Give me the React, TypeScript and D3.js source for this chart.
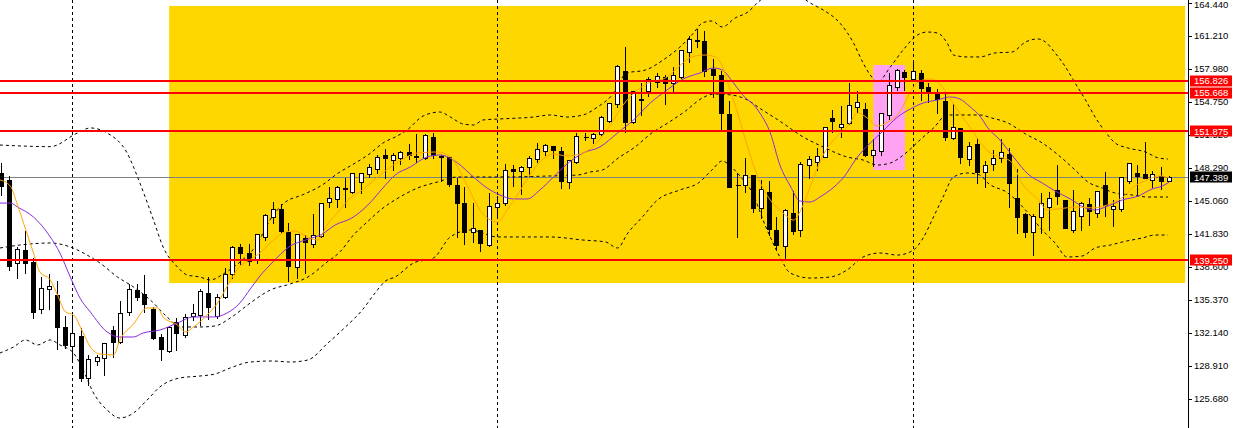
import React from "react";
import * as d3 from "d3";

const W = 1233;
const H = 428;

// ---- OHLC data (147 bars) ----
const opens = [
  147.80,147.12,139.02,140.26,139.09,134.49,136.44,135.86,132.73,130.87,
  131.85,127.74,129.40,129.69,132.43,131.26,134.20,136.35,135.96,134.49,
  131.75,130.38,133.22,131.94,133.80,133.90,136.06,133.80,135.66,137.91,
  140.56,139.97,139.28,141.54,143.49,144.28,142.03,138.60,141.44,140.85,
  141.64,144.96,145.26,146.33,145.94,146.92,147.70,148.19,149.56,149.07,
  149.27,149.86,149.47,149.27,151.32,149.47,149.37,146.63,144.86,142.03,
  142.22,140.75,144.47,144.86,148.19,147.99,148.39,149.17,149.95,150.44,
  149.95,146.92,148.88,151.32,151.23,151.62,152.89,154.56,157.78,152.79,
  155.04,155.83,156.71,157.20,156.61,157.20,159.64,160.77,160.72,157.98,
  157.39,153.58,146.63,146.63,147.60,144.38,145.94,142.22,140.65,143.89,
  142.22,148.58,148.88,149.37,153.19,152.30,152.70,154.26,154.07,149.56,
  149.95,153.48,156.22,157.69,157.00,157.59,156.22,155.63,154.85,151.23,
  152.21,149.17,150.64,147.85,148.68,149.24,149.66,145.32,143.79,141.98,
  143.46,144.50,146.14,145.16,142.25,143.62,144.77,143.86,146.63,144.25,
  144.25,147.05,147.83,147.70,147.12,147.51,147.05,
];
const highs = [
  148.88,147.60,140.68,142.22,139.58,137.72,138.01,137.33,133.90,134.00,
  132.73,130.09,130.09,131.26,132.92,135.37,137.03,137.03,137.91,134.78,
  132.14,132.92,133.71,134.10,135.08,136.54,137.72,136.06,138.60,140.75,
  140.95,140.95,141.93,143.89,145.06,144.86,143.00,141.93,141.83,143.89,
  145.00,146.53,146.63,147.41,147.83,147.83,148.78,149.66,150.25,149.86,
  150.05,150.74,151.72,151.72,151.81,149.66,149.56,147.41,146.53,144.96,
  142.32,145.94,145.65,148.78,148.68,148.58,149.56,150.84,150.74,150.54,
  150.44,149.10,151.81,151.81,151.81,153.48,154.75,158.47,160.23,155.93,
  156.71,157.30,157.69,157.49,158.27,159.94,161.31,161.99,161.80,159.06,
  157.88,154.95,147.90,149.37,147.62,147.21,147.12,143.59,144.38,146.14,
  148.98,149.56,150.35,152.40,154.07,154.46,156.71,155.93,154.75,151.23,
  153.77,157.69,158.08,157.98,158.96,157.98,156.71,156.12,155.63,154.65,
  152.30,150.93,151.32,149.12,150.15,151.20,150.38,148.26,143.98,143.86,
  145.91,146.04,148.68,145.26,146.23,145.06,145.42,146.18,147.99,145.26,
  147.46,148.91,148.68,150.93,148.09,148.49,147.60,
];
const lows = [
  145.65,138.31,137.55,138.01,133.61,134.10,134.49,130.58,130.67,129.40,
  127.44,127.05,129.01,128.03,129.79,131.16,133.90,135.37,134.20,131.55,
  129.50,130.28,130.48,131.75,133.41,132.92,133.51,133.61,135.57,137.52,
  138.89,138.79,138.99,141.24,142.90,142.03,137.23,137.52,138.01,140.56,
  141.54,144.47,144.47,144.47,145.84,145.84,147.41,147.80,147.31,148.09,
  148.68,149.17,148.88,149.17,149.27,147.02,146.53,141.54,140.85,141.05,
  140.16,140.70,143.69,144.67,146.53,145.75,147.51,148.88,149.56,149.27,
  146.33,146.33,148.78,151.03,150.74,151.52,152.79,154.26,151.81,152.70,
  153.48,155.34,156.22,154.56,155.83,157.10,158.67,160.13,157.30,155.24,
  152.01,146.40,141.54,145.94,143.98,143.40,141.73,140.26,139.38,141.83,
  141.64,147.31,148.09,149.34,151.81,151.32,152.60,153.77,149.47,148.49,
  149.56,153.09,155.93,155.93,156.90,154.95,154.75,153.67,151.03,151.13,
  148.78,148.58,146.82,146.43,148.09,148.91,144.50,141.96,141.57,139.77,
  141.90,142.22,144.77,142.37,142.05,142.22,142.71,143.52,143.59,142.61,
  144.11,146.79,145.65,147.28,146.46,146.20,147.02,
];
const closes = [
  146.53,138.70,140.33,138.99,134.20,136.54,136.74,132.73,130.97,132.14,
  127.74,129.60,129.79,131.16,131.26,134.10,136.44,135.66,134.98,131.65,
  130.58,132.73,132.14,133.71,134.10,136.25,134.69,135.66,137.91,140.56,
  139.97,139.18,141.83,143.69,144.28,142.12,138.70,141.83,141.05,141.73,
  144.90,145.35,146.43,146.23,147.80,147.80,148.39,149.37,149.27,149.56,
  149.86,149.56,149.37,151.52,149.56,149.37,146.72,144.86,142.03,142.42,
  140.95,144.57,144.86,148.09,147.99,148.39,149.27,150.15,150.54,150.05,
  147.02,149.07,151.42,151.37,151.62,153.28,154.65,158.27,152.79,155.83,
  154.99,157.00,157.30,156.61,157.39,159.84,160.92,160.75,157.78,157.39,
  153.67,146.43,146.58,147.60,144.38,146.23,142.32,140.75,144.18,142.12,
  148.68,149.17,149.47,152.30,152.89,152.60,154.46,154.75,149.56,150.05,
  153.67,156.41,157.88,157.20,157.78,156.12,155.83,155.04,151.32,152.26,
  149.32,150.49,147.90,148.58,149.22,149.83,146.85,143.45,142.05,143.64,
  144.83,145.32,145.58,142.42,144.08,144.83,144.08,146.04,144.64,144.57,
  147.38,148.75,147.53,147.34,147.67,147.05,147.389,
];

// ---- indicator lines: [bar index, price] ----
const bandUpper: [number, number][] = [
  [-0.2,150.54],[6.1,150.38],[9.5,151.72],[11.1,152.21],[13.2,151.72],[15.7,149.76],[17.3,146.82],
  [19.0,143.20],[20.2,140.56],[22.0,138.60],[23.2,137.82],[24.8,137.62],[26.1,137.33],[27.9,138.01],
  [30.1,139.28],[31.7,140.56],[33.8,143.49],[35.5,144.96],[37.6,145.65],[40.1,146.63],[42.1,147.80],
  [43.8,148.58],[45.8,149.56],[47.9,150.84],[49.2,151.32],[50.7,152.01],[52.7,153.38],[54.8,153.77],
  [56.1,153.28],[57.7,152.60],[59.0,152.50],[60.2,152.99],[62.3,153.09],[66.5,153.28],[68.6,153.48],
  [70.7,153.28],[72.7,153.48],[74.5,154.26],[76.1,155.24],[78.2,157.59],[80.5,157.88],[82.7,158.86],
  [84.8,160.13],[86.5,161.50],[87.6,162.48],[88.8,162.68],[90.1,162.09],[91.7,162.97],[93.3,163.56],
  [94.6,164.54],[96.3,165.52],[98.2,165.91],[99.8,165.13],[101.1,164.44],[102.7,163.76],[104.8,162.48],
  [106.5,160.53],[107.7,158.57],[108.6,157.39],[109.5,156.71],[111.1,158.18],[112.7,159.84],[114.5,161.31],
  [115.7,161.60],[117.0,161.50],[118.2,160.53],[119.0,159.35],[120.7,159.16],[122.3,159.16],[124.2,159.55],
  [126.3,159.64],[128.0,160.62],[129.5,160.92],[130.5,160.62],[131.7,159.55],[133.0,158.18],[134.2,156.61],
  [135.5,154.95],[136.7,153.28],[138.0,151.81],[139.2,150.74],[140.8,150.25],[143.0,149.86],[144.6,149.27],
  [145.8,149.17],
];
const bandMiddle: [number, number][] = [
  [-0.2,140.46],[2.3,140.75],[6.1,140.95],[8.6,140.56],[10.7,139.77],[12.3,138.99],[14.5,137.62],
  [16.5,136.64],[18.6,135.37],[20.7,133.71],[22.3,132.73],[24.8,132.73],[26.7,132.83],[28.6,133.61],
  [31.1,135.08],[33.6,136.35],[36.1,136.94],[38.3,137.62],[40.7,139.09],[42.3,140.07],[44.0,141.73],
  [45.7,143.00],[47.7,144.38],[49.8,145.45],[52.0,146.33],[54.5,146.92],[57.0,147.41],[62.3,147.41],
  [68.6,147.51],[72.0,147.60],[73.6,147.90],[75.1,148.09],[77.1,149.27],[79.2,150.35],[81.3,151.72],
  [83.3,152.70],[85.5,153.87],[87.6,155.14],[89.0,155.53],[91.3,155.43],[93.0,155.04],[95.1,153.97],
  [96.7,153.18],[98.0,152.50],[99.8,151.52],[102.7,150.35],[105.7,149.37],[107.7,149.07],[109.5,148.58],
  [111.1,148.78],[113.2,149.86],[114.8,151.03],[116.5,152.21],[118.2,153.48],[122.3,153.48],[123.8,153.18],
  [125.8,152.70],[128.0,151.62],[130.1,150.74],[132.1,149.56],[134.2,148.09],[135.8,146.92],[137.6,146.33],
  [139.2,145.84],[141.3,145.65],[143.3,145.45],[145.8,145.45],
];
const bandLower: [number, number][] = [
  [-0.2,130.18],[1.5,130.77],[3.0,131.46],[4.5,130.97],[6.1,131.46],[7.3,130.97],[9.0,130.18],
  [10.2,128.52],[11.5,126.27],[13.2,124.60],[14.8,123.82],[16.5,124.31],[18.2,125.58],[19.8,126.86],
  [22.3,127.74],[24.8,127.93],[26.7,128.13],[28.6,128.72],[31.1,129.30],[33.8,129.40],[36.1,129.30],
  [38.3,129.50],[40.8,131.16],[43.0,132.73],[45.1,134.39],[46.7,136.06],[48.0,137.23],[49.2,137.62],
  [51.5,138.99],[54.0,139.48],[56.1,141.54],[58.6,142.22],[62.0,141.54],[68.6,141.54],[72.7,141.24],
  [75.5,141.05],[77.0,140.46],[78.3,141.93],[80.1,143.49],[82.0,145.16],[84.8,146.14],[87.1,146.82],
  [88.8,148.09],[90.1,148.98],[91.1,148.49],[92.3,147.51],[93.8,145.94],[95.5,142.61],[97.3,139.58],
  [98.6,138.01],[101.1,137.52],[103.6,137.62],[105.7,138.31],[107.7,139.58],[109.8,139.97],[112.0,139.77],
  [114.0,140.26],[115.2,141.44],[116.5,143.49],[117.7,145.45],[119.0,147.41],[120.7,147.80],[122.3,147.60],
  [123.3,146.82],[125.8,145.84],[128.0,144.18],[130.1,142.22],[131.7,140.95],[133.2,139.58],[135.1,139.68],
  [136.7,140.46],[138.6,140.75],[140.1,141.05],[142.6,141.44],[144.2,141.73],[145.8,141.73],
];
const maSlow: [number, number][] = [
  [-0.2,144.86],[1.1,144.86],[2.0,144.47],[4.0,143.49],[6.1,141.54],[7.3,139.97],[8.6,137.62],
  [9.8,135.57],[11.1,134.20],[13.2,132.24],[14.8,131.75],[16.5,131.75],[17.7,132.14],[19.8,132.43],
  [22.0,133.12],[24.0,133.71],[26.5,133.71],[28.2,134.10],[29.8,135.08],[31.1,136.45],[32.3,137.72],
  [33.8,138.99],[36.1,140.66],[38.0,141.24],[40.1,141.83],[41.7,142.71],[43.8,143.40],[45.8,144.67],
  [48.0,146.63],[49.2,147.60],[51.1,148.39],[53.2,149.37],[54.8,149.56],[57.0,148.78],[59.0,147.41],
  [60.7,146.33],[62.3,145.65],[64.0,145.26],[65.7,145.26],[67.3,146.14],[69.0,147.41],[70.7,148.68],
  [72.7,149.76],[74.8,150.35],[77.0,151.72],[79.0,152.99],[81.1,154.65],[83.2,155.93],[85.2,157.00],
  [87.3,157.59],[89.0,158.08],[90.1,157.88],[91.5,156.61],[93.0,155.14],[93.8,154.65],[94.8,153.67],
  [96.1,151.72],[97.3,148.58],[98.6,146.53],[99.8,145.06],[101.1,144.96],[102.3,145.45],[103.6,146.14],
  [105.2,147.31],[107.0,149.37],[108.6,150.74],[110.2,151.91],[112.0,153.28],[113.6,154.07],[115.2,154.65],
  [117.0,154.95],[118.6,155.24],[119.8,155.04],[121.1,154.26],[122.3,153.38],[123.3,152.21],[124.8,151.03],
  [126.5,149.37],[128.3,147.70],[130.1,146.82],[131.7,146.04],[133.6,145.26],[135.5,144.38],[136.7,144.18],
  [138.3,144.57],[140.1,145.16],[142.1,145.55],[143.8,146.23],[145.1,146.53],[146.0,146.92],
];
const maFast: [number, number][] = [
  [-0.2,147.12],[1.1,146.53],[2.0,144.67],[3.0,142.32],[4.0,139.97],[4.8,138.11],[6.1,137.33],
  [7.0,135.86],[8.0,134.20],[9.0,133.90],[10.1,132.34],[11.1,130.77],[12.3,130.09],[14.0,129.99],
  [14.8,131.46],[16.5,133.02],[18.2,134.59],[19.5,134.59],[20.2,133.71],[22.0,132.92],[23.0,132.24],
  [24.0,132.73],[25.7,133.90],[27.1,135.18],[28.3,136.84],[29.6,138.50],[30.8,139.19],[32.3,139.97],
  [34.0,141.24],[35.5,142.03],[36.7,142.12],[38.0,141.64],[39.5,141.24],[40.7,142.71],[42.3,144.18],
  [43.6,145.36],[45.1,146.14],[46.7,147.21],[48.3,148.19],[49.8,148.98],[52.0,149.76],[54.5,149.86],
  [56.1,149.37],[57.3,147.99],[58.6,145.94],[59.8,144.18],[61.1,143.20],[62.0,143.00],[63.2,144.18],
  [64.5,145.65],[65.7,147.21],[67.3,148.88],[69.0,149.66],[70.7,149.47],[72.7,149.76],[74.5,150.84],
  [76.1,152.50],[77.7,154.46],[79.5,155.93],[81.1,156.71],[83.0,157.10],[84.6,158.18],[86.3,159.16],
  [88.0,159.35],[89.2,159.16],[90.1,158.28],[90.8,156.61],[92.1,153.48],[93.3,150.25],[94.6,147.31],
  [96.1,145.16],[97.7,143.89],[99.0,143.20],[100.2,144.67],[101.5,147.31],[102.7,149.56],[104.0,151.03],
  [105.7,152.30],[107.1,153.67],[108.2,153.19],[109.5,152.40],[110.8,152.79],[112.3,153.77],[113.6,155.73],
  [114.8,156.81],[116.1,157.00],[117.3,156.51],[118.6,155.04],[120.1,153.28],[121.5,151.81],[122.3,150.84],
  [123.6,149.76],[124.8,149.37],[126.1,148.98],[127.7,146.63],[129.5,145.26],[130.7,144.18],[132.0,144.28],
  [134.5,144.47],[136.5,144.38],[138.8,144.86],[140.2,145.45],[141.5,146.43],[143.2,147.12],[144.8,147.51],
  [146.0,147.31],
];

// ---- axis / annotations ----
const priceTicks = [164.44,161.21,157.98,154.75,151.52,148.29,145.06,141.83,138.6,135.37,132.14,128.91,125.68];
const redLevels = [156.826, 155.668, 151.875, 139.25];
const currentPrice = 147.389;
const vLineBars = [9, 62, 114];
const yellowZone = { barStart: 20.95, barEnd: 147.95, priceTop: 164.15, priceBottom: 137.03 };
const pinkZone = { barStart: 108.98, barEnd: 112.94, priceTop: 158.37, priceBottom: 148.09 };

const AXIS_X = 1188.5;
const FONT = "'Liberation Sans', Arial, sans-serif";

export default function App() {
  const x = d3.scaleLinear().domain([0, 146]).range([1.5, 1169.5]);
  const y = d3.scaleLinear().domain([125.68, 164.44]).range([399, 3]);
  const fmt = d3.format(".3f");
  const snap = (v: number) => Math.round(v) + 0.5;

  const line = d3
    .line<[number, number]>()
    .x((d) => x(d[0]))
    .y((d) => y(d[1]))
    .curve(d3.curveMonotoneX);

  const bars = opens.map((o, i) => ({ o, h: highs[i], l: lows[i], c: closes[i], i }));

  return (
    <svg
      width={W}
      height={H}
      style={{ position: "absolute", left: 0, top: 0, display: "block", background: "#fff" }}
      fontFamily={FONT}
    >
      <defs>
        <clipPath id="plot">
          <rect x={0} y={0} width={AXIS_X} height={H} />
        </clipPath>
      </defs>
      <rect x={0} y={0} width={W} height={H} fill="#fff" />
      <g clipPath="url(#plot)">
        <rect
          x={x(yellowZone.barStart)}
          y={y(yellowZone.priceTop)}
          width={x(yellowZone.barEnd) - x(yellowZone.barStart)}
          height={y(yellowZone.priceBottom) - y(yellowZone.priceTop)}
          fill="#FFD700"
        />
        <rect
          x={x(pinkZone.barStart)}
          y={y(pinkZone.priceTop)}
          width={x(pinkZone.barEnd) - x(pinkZone.barStart)}
          height={y(pinkZone.priceBottom) - y(pinkZone.priceTop)}
          fill="#FFA2F2"
        />
        {vLineBars.map((b) => (
          <line
            key={b}
            x1={snap(x(b)) - 1}
            x2={snap(x(b)) - 1}
            y1={0}
            y2={H}
            stroke="#000"
            strokeWidth={1}
            strokeDasharray="3,3"
            shapeRendering="crispEdges"
          />
        ))}
        <line
          x1={0}
          x2={AXIS_X}
          y1={snap(y(currentPrice))}
          y2={snap(y(currentPrice))}
          stroke="#808080"
          strokeWidth={1}
          shapeRendering="crispEdges"
        />
        {[bandUpper, bandMiddle, bandLower].map((d, k) => (
          <path
            key={k}
            d={line(d) || ""}
            fill="none"
            stroke="#000"
            strokeWidth={1}
            strokeDasharray="3,3"
          />
        ))}
        {bars.map((b) => {
          const cx = snap(x(b.i)) - 1;
          const up = b.c >= b.o;
          const top = snap(y(Math.max(b.o, b.c)));
          const bot = snap(y(Math.min(b.o, b.c)));
          return (
            <g key={b.i} shapeRendering="crispEdges">
              <line x1={cx} x2={cx} y1={snap(y(b.h))} y2={snap(y(b.l))} stroke="#000" strokeWidth={1} />
              {bot - top < 1 ? (
                <line x1={cx - 2} x2={cx + 3} y1={top} y2={top} stroke="#000" strokeWidth={1} />
              ) : (
                <rect
                  x={cx - 2}
                  y={top}
                  width={4}
                  height={bot - top}
                  fill={up ? "#fff" : "#000"}
                  stroke="#000"
                  strokeWidth={1}
                />
              )}
            </g>
          );
        })}
        <path d={line(maSlow) || ""} fill="none" stroke="#8A2BE2" strokeWidth={1} />
        <path d={line(maFast) || ""} fill="none" stroke="#FFA500" strokeWidth={1} />
        {redLevels.map((p) => (
          <line
            key={p}
            x1={0}
            x2={AXIS_X}
            y1={Math.round(y(p))}
            y2={Math.round(y(p))}
            stroke="#FF0000"
            strokeWidth={2}
            shapeRendering="crispEdges"
          />
        ))}
      </g>
      {/* price axis */}
      <line x1={AXIS_X} x2={AXIS_X} y1={0} y2={H} stroke="#000" strokeWidth={1} shapeRendering="crispEdges" />
      {priceTicks.map((p) => (
        <g key={p}>
          <line x1={AXIS_X} x2={AXIS_X + 3} y1={snap(y(p))} y2={snap(y(p))} stroke="#000" shapeRendering="crispEdges" />
          <text x={1194} y={Math.max(y(p), 5)} dy="0.35em" fontSize={9.5} fill="#000">
            {fmt(p)}
          </text>
        </g>
      ))}
      {redLevels.map((p) => (
        <g key={p}>
          <rect x={1190} y={Math.round(y(p)) - 5.5} width={42} height={11} fill="#FF0000" />
          <text x={1194} y={y(p)} dy="0.35em" fontSize={9.5} fill="#fff">
            {fmt(p)}
          </text>
        </g>
      ))}
      <g>
        <rect x={1190} y={Math.round(y(currentPrice)) - 5.5} width={42} height={11} fill="#000" />
        <text x={1194} y={y(currentPrice)} dy="0.35em" fontSize={9.5} fill="#fff">
          {fmt(currentPrice)}
        </text>
      </g>
    </svg>
  );
}
